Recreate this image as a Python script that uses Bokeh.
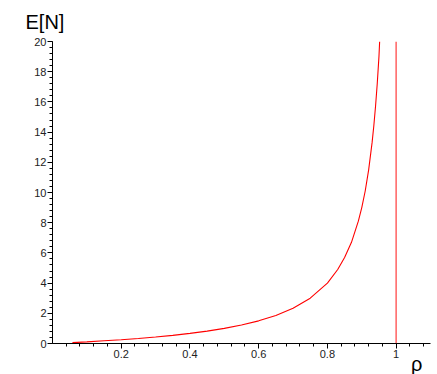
from bokeh.plotting import figure
from bokeh.models import FixedTicker, Range1d, Title
from bokeh.embed import file_html
from bokeh.resources import INLINE

# values
rho = [0.058, 0.1, 0.15, 0.2, 0.25, 0.3, 0.35, 0.4, 0.45, 0.5, 0.55, 0.6, 0.65,
       0.7, 0.75, 0.8, 0.83, 0.85, 0.87, 0.89, 0.9, 0.91, 0.92, 0.93, 0.935,
       0.94, 0.945, 0.95, 0.952]
en = [0.06, 0.11, 0.18, 0.25, 0.33, 0.43, 0.54, 0.67, 0.82, 1.0, 1.22, 1.5, 1.86,
      2.33, 3.0, 4.0, 4.9, 5.7, 6.7, 8.1, 9.0, 10.1, 11.5, 13.3, 14.4,
      15.7, 17.2, 19.0, 20.0]
asymptote_x = [1.0]
asymptote_y0 = [0.0]
asymptote_y1 = [20.0]
x_ticks = [0.2, 0.4, 0.6, 0.8, 1.0]
x_minor = [round(0.04 * i, 2) for i in range(1, 28)]
y_ticks = [0, 2, 4, 6, 8, 10, 12, 14, 16, 18, 20]
y_minor = [round(0.4 * i, 1) for i in range(0, 51)]

p = figure(width=434, height=374, output_backend="svg", toolbar_location=None,
           x_range=Range1d(0, 1.1), y_range=Range1d(0, 20),
           min_border_left=52, min_border_right=4, min_border_top=41, min_border_bottom=31)
p.outline_line_color = None
p.xgrid.visible = False
p.ygrid.visible = False

p.line(rho, en, line_color="#ff0000", line_width=1.1)
p.segment(x0=asymptote_x, y0=asymptote_y0, x1=asymptote_x, y1=asymptote_y1,
          line_color="#ff6b6b", line_width=1.6)

for ax, maj, mnr in ((p.xaxis[0], x_ticks, x_minor), (p.yaxis[0], y_ticks, y_minor)):
    ax.ticker = FixedTicker(ticks=maj, minor_ticks=mnr)
    ax.axis_line_color = "black"
    ax.major_tick_line_color = "black"
    ax.minor_tick_line_color = "black"
    ax.major_tick_in = 0
    ax.major_tick_out = 5
    ax.minor_tick_in = 0
    ax.minor_tick_out = 3
    ax.major_label_text_font = "Liberation Sans"
    ax.major_label_text_font_size = "11px"
    ax.major_label_text_color = "#222222"
    ax.major_label_standoff = 1

p.xaxis[0].major_label_overrides = {1.0: "1", 0.2: "0.2", 0.4: "0.4", 0.6: "0.6", 0.8: "0.8"}

p.add_layout(Title(text="ρ", align="right", offset=8, standoff=-19,
                   text_font="Liberation Sans", text_font_size="20px",
                   text_font_style="normal", text_color="black"), "below")

p.add_layout(Title(text="E[N]", align="left", offset=-27, standoff=17,
                   text_font="Liberation Sans", text_font_size="20px",
                   text_font_style="normal", text_color="black"), "above")

open("out.html", "w").write(file_html(p, INLINE))
